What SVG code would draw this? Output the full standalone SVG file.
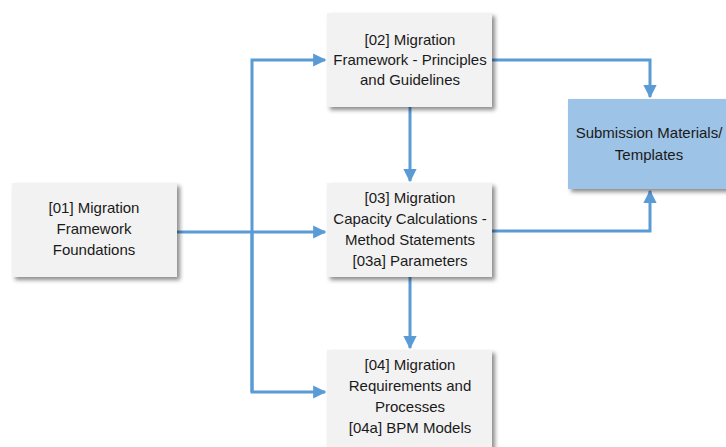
<svg xmlns="http://www.w3.org/2000/svg" width="726" height="447" viewBox="0 0 726 447">
<defs>
<filter id="sh" x="-10%" y="-10%" width="130%" height="130%">
<feDropShadow dx="3" dy="3" stdDeviation="2" flood-color="#000" flood-opacity="0.45"/>
</filter>
<marker id="ah" viewBox="0 0 10 10" refX="9" refY="5" markerWidth="4.4" markerHeight="4.4" orient="auto" markerUnits="strokeWidth">
<path d="M0,0 L10,5 L0,10 z" fill="#5B9BD5"/>
</marker>
<style>
.box{fill:#F2F2F2;filter:url(#sh);}
.blue{fill:#9DC3E6;filter:url(#sh);}
.t{font-family:"Liberation Sans",Arial,sans-serif;font-size:15px;fill:#1a1a1a;text-anchor:middle;}
.c{fill:none;stroke:#5B9BD5;stroke-width:3;}
</style>
</defs>
<rect width="726" height="447" fill="#fff"/>
<g id="connectors">
<path class="c" d="M177,232 H325" marker-end="url(#ah)"/>
<path class="c" d="M252,392 V60 H325" marker-end="url(#ah)"/>
<path class="c" d="M252,232 V392 H325" marker-end="url(#ah)"/>
<path class="c" d="M410,107 V181" marker-end="url(#ah)"/>
<path class="c" d="M410,276 V348" marker-end="url(#ah)"/>
<path class="c" d="M492,60 H650 V97" marker-end="url(#ah)"/>
<path class="c" d="M492,231 H650 V191" marker-end="url(#ah)"/>
</g>
<g id="n01">
<rect class="box" x="12" y="183" width="165" height="94"/>
<text class="t" x="94" y="213">[01] Migration</text>
<text class="t" x="94" y="234">Framework</text>
<text class="t" x="94" y="255">Foundations</text>
</g>
<g id="n02">
<rect class="box" x="327" y="13" width="165" height="94"/>
<text class="t" x="410" y="45">[02] Migration</text>
<text class="t" x="410" y="65">Framework - Principles</text>
<text class="t" x="410" y="85">and Guidelines</text>
</g>
<g id="n03">
<rect class="box" x="327" y="183" width="165" height="94"/>
<text class="t" x="410" y="203">[03] Migration</text>
<text class="t" x="410" y="224">Capacity Calculations -</text>
<text class="t" x="410" y="245">Method Statements</text>
<text class="t" x="410" y="266">[03a] Parameters</text>
</g>
<g id="n04">
<rect class="box" x="327" y="350" width="165" height="100"/>
<text class="t" x="410" y="370">[04] Migration</text>
<text class="t" x="410" y="391">Requirements and</text>
<text class="t" x="410" y="412">Processes</text>
<text class="t" x="410" y="433">[04a] BPM Models</text>
</g>
<g id="n05">
<rect class="blue" x="568" y="99" width="170" height="90"/>
<text class="t" x="649" y="138">Submission Materials/</text>
<text class="t" x="649" y="160">Templates</text>
</g>
</svg>
